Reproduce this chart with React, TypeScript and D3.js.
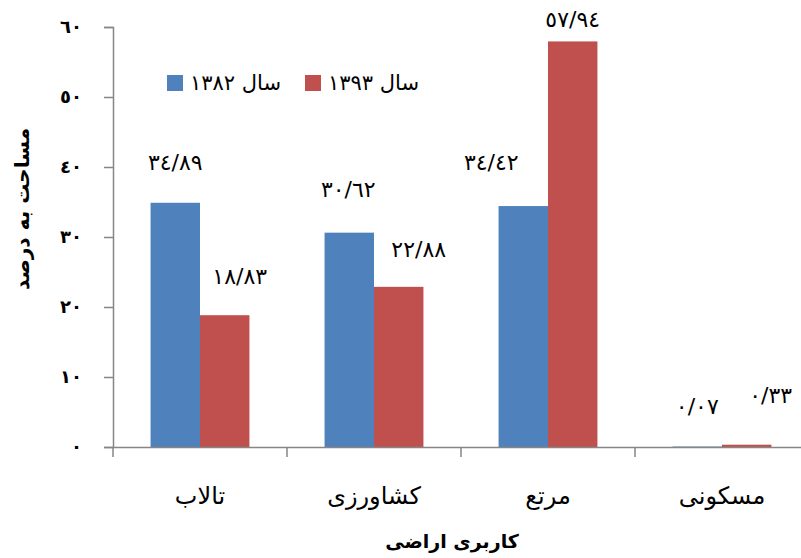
import React, { useEffect, useRef } from 'react';
import * as d3 from 'd3';

const categories = ['تالاب', 'کشاورزی', 'مرتع', 'مسکونی'];
const seriesNames = ['سال ١٣٨٢', 'سال ١٣٩٣'];
const values1382 = [34.89, 30.62, 34.42, 0.07];
const values1393 = [18.83, 22.88, 57.94, 0.33];
const yTicks = [0, 10, 20, 30, 40, 50, 60];
const yTitle = 'مساحت به درصد';
const xTitle = 'کاربری اراضی';

// manual label nudges (Excel-style hand placed data labels)
const labelNudge1382: [number, number][] = [[0, -40], [-1, -43], [-32, -44], [0, -40]];
const labelNudge1393: [number, number][] = [[15, -39], [20, -37], [0, -22], [24, -49]];

const colors = ['#4F81BD', '#C0504D'];
const axisColor = '#868686';
const font = '"DejaVu Sans", sans-serif';

const toArabicDigits = (s: string) => s.replace(/[0-9]/g, d => String.fromCharCode(0x0660 + Number(d)));
const fmtValue = (v: number) => toArabicDigits(v.toFixed(2).replace('.', '/'));

const W = 801;
const H = 558;
const margin = { left: 113, top: 27, bottom: 111 };
const plotRight = 809; // plot area runs past the image edge

export default function App() {
  const ref = useRef<SVGSVGElement>(null);

  useEffect(() => {
    document.body.style.margin = '0';
    const svg = d3.select(ref.current);
    svg.selectAll('*').remove();

    const y = d3.scaleLinear().domain([0, 60]).range([H - margin.bottom, margin.top]);
    const x0 = d3.scaleBand().domain(categories).range([margin.left, plotRight]).padding(0);
    const x1 = d3.scaleBand().domain(seriesNames).range([0, x0.bandwidth()]).paddingInner(0).paddingOuter(0.76);

    const series = [values1382, values1393];
    const nudges = [labelNudge1382, labelNudge1393];

    // bars
    series.forEach((vals, si) => {
      svg.append('g')
        .selectAll('rect')
        .data(vals)
        .join('rect')
        .attr('x', (_, i) => x0(categories[i])! + x1(seriesNames[si])!)
        .attr('width', x1.bandwidth())
        .attr('y', d => y(d))
        .attr('height', d => y(0) - y(d))
        .attr('fill', colors[si]);
    });

    // y axis
    const yAxis = svg.append('g')
      .attr('transform', `translate(${margin.left},0)`)
      .call(d3.axisLeft(y).tickValues(yTicks).tickSize(9).tickPadding(22).tickFormat(d => toArabicDigits(String(d))));
    yAxis.selectAll('.domain').attr('stroke', axisColor).attr('stroke-width', 1.5);
    yAxis.selectAll('.tick line').attr('stroke', axisColor).attr('stroke-width', 1.5);
    yAxis.selectAll('.tick text')
      .attr('font-family', font).attr('font-size', 18).attr('font-weight', 'bold').attr('fill', '#000');

    // x axis
    const xAxis = svg.append('g')
      .attr('transform', `translate(0,${y(0)})`)
      .call(d3.axisBottom(x0).tickSize(0).tickPadding(40));
    xAxis.select('.domain').attr('stroke', axisColor).attr('stroke-width', 1.5);
    xAxis.selectAll('.tick text')
      .attr('font-family', font).attr('font-size', 24).attr('fill', '#000');
    const boundaries = categories.map(c => x0(c)!).concat([x0(categories[categories.length - 1])! + x0.bandwidth()]);
    xAxis.append('g')
      .selectAll('line')
      .data(boundaries)
      .join('line')
      .attr('x1', d => d).attr('x2', d => d)
      .attr('y1', 0).attr('y2', 10)
      .attr('stroke', axisColor).attr('stroke-width', 1.5);

    // data labels
    series.forEach((vals, si) => {
      svg.append('g')
        .selectAll('text')
        .data(vals)
        .join('text')
        .attr('x', (_, i) => x0(categories[i])! + x1(seriesNames[si])! + x1.bandwidth() / 2 + nudges[si][i][0])
        .attr('y', (d, i) => y(d) + nudges[si][i][1])
        .attr('text-anchor', 'middle')
        .attr('dominant-baseline', 'central')
        .attr('font-family', font)
        .attr('font-size', 22)
        .attr('fill', '#000')
        .text(d => fmtValue(d));
    });

    // legend
    const legendItems = [
      { name: seriesNames[0], color: colors[0], x: 167 },
      { name: seriesNames[1], color: colors[1], x: 305 },
    ];
    const lg = svg.append('g');
    legendItems.forEach(item => {
      lg.append('rect')
        .attr('x', item.x).attr('y', 75).attr('width', 16).attr('height', 16)
        .attr('fill', item.color);
      lg.append('text')
        .attr('x', item.x + 23).attr('y', 83)
        .attr('dominant-baseline', 'central')
        .attr('font-family', font).attr('font-size', 21).attr('fill', '#000')
        .text(item.name);
    });

    // axis titles
    svg.append('text')
      .attr('transform', 'translate(22,209) rotate(-90)')
      .attr('text-anchor', 'middle')
      .attr('dominant-baseline', 'central')
      .attr('font-family', font).attr('font-size', 20).attr('font-weight', 'bold')
      .text(yTitle);

    svg.append('text')
      .attr('x', 452).attr('y', 541)
      .attr('text-anchor', 'middle')
      .attr('dominant-baseline', 'central')
      .attr('font-family', font).attr('font-size', 19).attr('font-weight', 'bold')
      .text(xTitle);
  }, []);

  return <svg ref={ref} width={W} height={H} style={{ display: 'block', background: '#fff' }} />;
}
